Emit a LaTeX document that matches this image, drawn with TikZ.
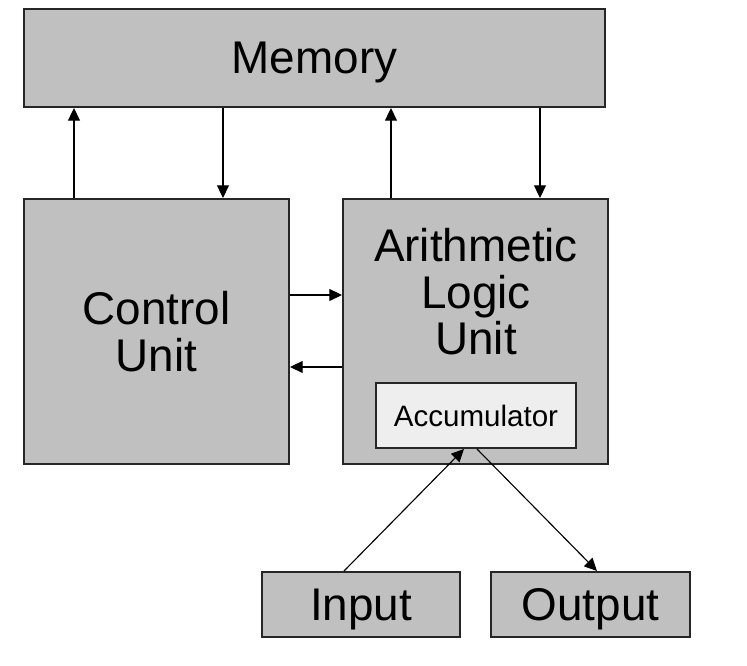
\documentclass[tikz,border=0pt]{standalone}
\usepackage{fontspec}
\setmainfont{Liberation Sans}
\usepackage{tikz}
\usetikzlibrary{arrows.meta,positioning,calc}

\definecolor{boxgray}{HTML}{C0C0C0}
\definecolor{accgray}{HTML}{EEEEEE}

\tikzset{
  unitbox/.style={draw=black!85,line width=1.4pt,fill=boxgray,inner sep=0pt,align=center,
    font=\fontsize{32.6}{33}\selectfont},
  accbox/.style={draw=black!85,line width=1.4pt,fill=accgray,inner sep=0pt,
    font=\fontsize{21}{24}\selectfont},
  flow/.style={->,line width=0.8pt,>={Triangle[length=9pt,width=8.5pt]}}
}

\begin{document}
\begin{tikzpicture}[x=0.025cm,y=-0.025cm]
\useasboundingbox (0,0) rectangle (747,665);

%Main units
\node[unitbox,text depth=0pt,minimum width=14.525cm,minimum height=2.45cm] (mem) at (314.5,58) {Memory};
\node[unitbox,minimum width=6.625cm,minimum height=6.625cm] (ctrl) at (156.5,331.5) {Control\\Unit};
\node[unitbox,minimum width=6.625cm,minimum height=6.625cm] (alu) at (475.5,331.5) {};
\node[align=center,font=\fontsize{32.6}{33}\selectfont] (alutext) at (476,292) {Arithmetic\\Logic\\Unit};

% Accumulator inside ALU
\node[accbox,minimum width=5cm,minimum height=1.625cm] (acc) at (476,415.5) {Accumulator};

% I/O
\node[unitbox,text depth=0pt,minimum width=4.95cm,minimum height=1.625cm] (input) at (361,604.5) {Input};
\node[unitbox,text depth=0pt,minimum width=4.975cm,minimum height=1.625cm] (output) at (590.5,604.5) {Output};

% Anchor points on the unit tops
\coordinate (cup) at ($(ctrl.north west)+(51,0)$);
\coordinate (cdown) at ($(ctrl.north west)+(200,0)$);
\coordinate (aup) at ($(alu.north west)+(49,0)$);
\coordinate (adown) at ($(alu.north west)+(198,0)$);
\coordinate (toalu) at ($(ctrl.north east)+(0,97)$);
\coordinate (toctrl) at ($(ctrl.north east)+(0,169)$);

% Connections
\draw[flow] (cup) -- (cup |- mem.south);
\draw[flow] (cdown |- mem.south) -- (cdown);
\draw[flow] (aup) -- (aup |- mem.south);
\draw[flow] (adown |- mem.south) -- (adown);

\draw[flow] (toalu) -- (toalu -| alu.west);
\draw[flow] (toctrl -| alu.west) -- (toctrl);

\draw[flow] ($(input.north west)+(83,0)$) -- ($(acc.south west)+(89,0)$);
\draw[flow] ($(acc.south west)+(102,0)$) -- ($(output.north west)+(107,0)$);

\end{tikzpicture}
\end{document}
